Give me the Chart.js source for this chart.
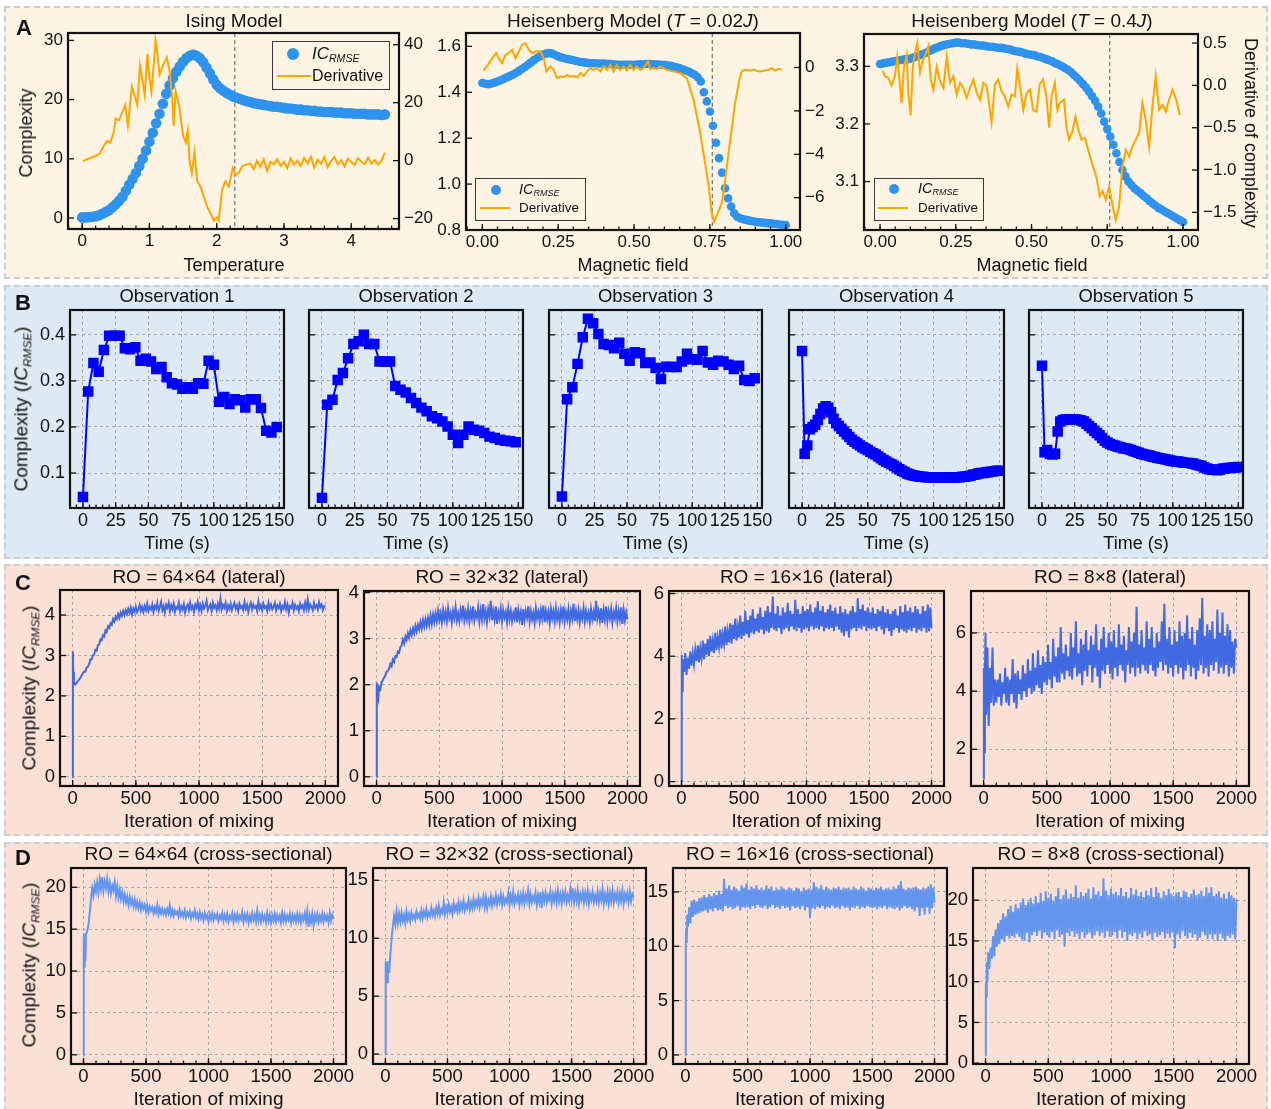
<!DOCTYPE html>
<html>
<head>
<meta charset="utf-8">
<script src="https://cdn.jsdelivr.net/npm/chart.js@4.4.0/dist/chart.umd.min.js"></script>
<style>
body { margin: 0; background: #fff; font-family: "Liberation Sans", Arial, sans-serif; }
#fig { position: relative; width: 1271px; height: 1109px; overflow: hidden; }
.panel { position: absolute; border: 2px dashed #c6ced7; box-sizing: border-box; }
canvas { position: absolute; }
.txt { position: absolute; white-space: nowrap; color: #111; line-height: 1; }
.txt sub { font-size: 0.62em; vertical-align: -0.3em; }
.lg { position: absolute; box-sizing: border-box; }
</style>
</head>
<body>
<div id="fig"></div>
<script>
// ---- row A data ----
var isingT = [0,0.05,0.1,0.15,0.2,0.25,0.3,0.35,0.4,0.45,0.5,0.55,0.6,0.65,0.7,0.75,0.8,0.85,0.9,0.95,1,1.05,1.1,1.15,1.2,1.25,1.3,1.35,1.4,1.45,1.5,1.55,1.6,1.65,1.7,1.75,1.8,1.85,1.9,1.95,2,2.05,2.1,2.15,2.2,2.25,2.3,2.35,2.4,2.45,2.5,2.55,2.6,2.65,2.7,2.75,2.8,2.85,2.9,2.95,3,3.05,3.1,3.15,3.2,3.25,3.3,3.35,3.4,3.45,3.5,3.55,3.6,3.65,3.7,3.75,3.8,3.85,3.9,3.95,4,4.05,4.1,4.15,4.2,4.25,4.3,4.35,4.4,4.45,4.5];
var isingIC = [0.1,0.1,0.15,0.2,0.3,0.45,0.7,1.0,1.3,1.8,2.3,2.9,3.6,4.6,5.6,6.6,7.6,8.8,10.0,11.4,12.9,14.4,16.0,17.6,19.3,21.0,22.4,23.6,24.7,25.6,26.4,27.0,27.4,27.6,27.4,27.0,26.3,25.4,24.4,23.4,22.5,21.9,21.5,21.1,20.8,20.5,20.3,20.1,19.9,19.7,19.6,19.4,19.3,19.2,19.1,19.0,18.9,18.8,18.8,18.7,18.6,18.5,18.5,18.4,18.3,18.3,18.2,18.2,18.1,18.1,18.0,18.0,17.9,17.9,17.9,17.8,17.8,17.8,17.7,17.7,17.7,17.6,17.6,17.6,17.6,17.5,17.5,17.5,17.5,17.4,17.5];
var isingDerivT = [0.01,0.12,0.22,0.27,0.32,0.37,0.42,0.47,0.5,0.55,0.59,0.64,0.68,0.74,0.79,0.82,0.86,0.89,0.93,0.97,1.0,1.03,1.07,1.09,1.12,1.15,1.21,1.26,1.3,1.34,1.36,1.39,1.44,1.46,1.5,1.54,1.57,1.6,1.63,1.67,1.71,1.76,1.81,1.86,1.91,1.96,2.0,2.03,2.08,2.13,2.18,2.24,2.28,2.33,2.38,2.45,
  2.5,2.55,2.6,2.65,2.7,2.75,2.8,2.85,2.9,2.95,3,3.05,3.1,3.15,3.2,3.25,3.3,3.35,3.4,3.45,3.5,3.55,3.6,3.65,3.7,3.75,3.8,3.85,3.9,3.95,4,4.05,4.1,4.15,4.2,4.25,4.3,4.35,4.4,4.45,4.5];
var isingDeriv = [-0.2,0.9,1.8,2.6,5.0,6.8,6.2,9.8,14.5,13.9,16.2,19.2,12.1,25.6,21.5,19.2,32.7,28.6,22.7,36.8,28.6,23.9,34.5,41.5,36.8,29.7,33.3,35.6,30.9,21.5,12.1,23.9,19.2,15.6,8.6,6.2,10.4,-0.7,-4.2,2.8,-7.1,-9.0,-12.5,-16.0,-18.4,-20.7,-19.6,-20.7,-10.1,-7.1,-9.0,-2.5,-4.9,-4.3,-1.9,-1.3,
  -1.0,-3.0,0.0,-2.2,0.5,-3.5,-0.5,-1.2,0.5,-1.8,-0.4,-2.6,0.8,-1.4,0.0,-1.9,1.0,-1.0,1.4,-2.4,0.3,-1.1,1.2,-2.2,-0.2,1.3,-1.3,0.2,-2.0,0.7,-0.5,-1.5,0.8,-0.4,-1.2,1.0,-1.0,0.2,-1.4,0.0,2.8];
var isingTc = 2.269;

var fieldH = [0,0.01,0.02,0.03,0.04,0.05,0.06,0.07,0.08,0.09,0.1,0.11,0.12,0.13,0.14,0.15,0.16,0.17,0.18,0.19,0.2,0.21,0.22,0.23,0.24,0.25,0.26,0.27,0.28,0.29,0.3,0.31,0.32,0.33,0.34,0.35,0.36,0.37,0.38,0.39,0.4,0.41,0.42,0.43,0.44,0.45,0.46,0.47,0.48,0.49,0.5,0.51,0.52,0.53,0.54,0.55,0.56,0.57,0.58,0.59,0.6,0.61,0.62,0.63,0.64,0.65,0.66,0.67,0.68,0.69,0.7,0.71,0.72,0.73,0.74,0.75,0.76,0.77,0.78,0.79,0.8,0.81,0.82,0.83,0.84,0.85,0.86,0.87,0.88,0.89,0.9,0.91,0.92,0.93,0.94,0.95,0.96,0.97,0.98,0.99,1];
var heis02IC = [1.44,1.437,1.435,1.438,1.442,1.447,1.452,1.458,1.464,1.47,1.476,1.484,1.492,1.501,1.51,1.52,1.53,1.54,1.549,1.557,1.564,1.568,1.571,1.568,1.562,1.556,1.552,1.548,1.545,1.542,1.539,1.536,1.533,1.531,1.529,1.527,1.526,1.526,1.525,1.525,1.525,1.524,1.523,1.522,1.521,1.52,1.52,1.52,1.52,1.52,1.52,1.521,1.522,1.522,1.523,1.523,1.522,1.522,1.521,1.52,1.519,1.517,1.515,1.512,1.509,1.505,1.5,1.495,1.49,1.483,1.476,1.465,1.447,1.40,1.36,1.316,1.254,1.18,1.113,1.05,0.982,0.938,0.902,0.873,0.858,0.851,0.847,0.844,0.841,0.838,0.836,0.834,0.833,0.831,0.83,0.829,0.827,0.826,0.824,0.823,0.822];
var heis02DerivH = [0.004,0.015,0.026,0.037,0.046,0.054,0.065,0.076,0.087,0.098,0.109,0.12,0.131,0.142,0.153,0.164,0.175,0.191,0.202,0.211,0.224,0.235,0.246,0.257,0.268,0.279,0.29,0.301,0.312,0.323,0.334,0.345,0.356,0.367,0.378,0.389,0.4,0.411,0.422,0.432,0.443,0.454,0.465,0.476,0.487,0.498,0.509,0.52,0.531,0.546,0.553,0.564,0.575,0.586,0.608,0.63,0.652,0.674,0.696,0.718,0.734,0.746,0.756,0.764,0.776,0.789,0.8,0.817,0.833,0.847,0.855,0.866,0.883,0.894,0.905,0.915,0.926,0.943,0.954,0.965,0.976,0.987];
var heis02Deriv = [-0.14,0.05,0.28,0.51,0.66,0.43,0.2,0.58,0.66,0.82,0.43,0.74,1.05,1.12,0.82,0.66,0.74,0.74,0.43,-0.18,0.05,-0.11,-0.49,-0.42,-0.45,-0.34,-0.42,-0.38,-0.45,-0.26,-0.38,-0.18,-0.03,-0.11,-0.03,-0.18,0.05,-0.11,0.12,-0.18,0.12,-0.11,0.05,-0.14,0.12,-0.11,0.05,-0.11,-0.03,0.28,-0.08,-0.03,-0.08,0.05,-0.11,-0.18,-0.26,-0.49,-1.48,-3.02,-4.4,-5.48,-6.71,-7.11,-6.71,-6.25,-5.2,-3.34,-1.65,-0.57,-0.18,-0.11,-0.14,-0.11,-0.15,-0.18,-0.15,-0.11,-0.03,-0.14,-0.06,-0.11];
var heis04IC = [3.304,3.305,3.306,3.307,3.308,3.309,3.31,3.311,3.312,3.312,3.313,3.315,3.317,3.319,3.321,3.323,3.326,3.328,3.331,3.333,3.335,3.337,3.338,3.339,3.34,3.341,3.341,3.34,3.34,3.339,3.338,3.338,3.337,3.336,3.336,3.335,3.334,3.334,3.333,3.332,3.332,3.331,3.33,3.329,3.327,3.326,3.325,3.324,3.322,3.321,3.32,3.319,3.317,3.316,3.314,3.312,3.31,3.308,3.305,3.303,3.3,3.297,3.294,3.29,3.285,3.28,3.275,3.269,3.263,3.256,3.248,3.24,3.23,3.218,3.204,3.191,3.178,3.164,3.149,3.134,3.12,3.109,3.1,3.094,3.088,3.084,3.08,3.075,3.071,3.066,3.062,3.058,3.054,3.051,3.048,3.045,3.042,3.039,3.036,3.033,3.03];
var heis04DerivH = [0.009,0.016,0.027,0.038,0.049,0.057,0.066,0.071,0.079,0.088,0.093,0.101,0.108,0.115,0.123,0.132,0.141,0.152,0.159,0.167,0.176,0.187,0.198,0.209,0.22,0.231,0.242,0.253,0.264,0.275,0.286,0.297,0.308,0.319,0.33,0.341,0.352,0.368,0.379,0.39,0.401,0.412,0.423,0.434,0.445,0.453,0.462,0.473,0.484,0.495,0.505,0.516,0.527,0.538,0.549,0.558,0.566,0.577,0.585,0.593,0.607,0.615,0.624,0.635,0.645,0.654,0.665,0.676,0.69,0.703,0.714,0.725,0.734,0.745,0.756,0.767,0.778,0.789,0.8,0.811,0.822,0.833,0.844,0.855,0.866,0.877,0.888,0.899,0.91,0.921,0.932,0.943,0.954,0.965,0.978,0.989];
var heis04Deriv = [0.17,0.11,0.09,0.0,0.11,0.34,-0.01,-0.21,0.22,0.36,-0.07,-0.35,0.22,0.38,0.5,0.15,0.3,0.38,0.46,0.07,-0.05,0.22,0.05,-0.03,0.34,0.03,0.11,-0.11,0.03,-0.03,-0.15,-0.03,0.07,-0.09,-0.17,0.03,-0.01,-0.43,0.01,0.07,-0.07,-0.13,-0.25,-0.11,-0.13,0.2,-0.01,-0.29,-0.09,-0.05,-0.29,-0.31,0.01,0.07,-0.13,-0.5,-0.13,0.03,-0.29,-0.21,-0.17,-0.49,-0.64,-0.54,-0.37,-0.52,-0.64,-0.62,-0.8,-0.96,-1.08,-1.31,-1.25,-1.35,-1.2,-1.41,-1.59,-1.43,-0.96,-0.76,-0.84,-0.72,-0.64,-0.56,-0.21,-0.41,-0.72,-0.25,0.11,-0.29,-0.23,-0.31,-0.17,-0.05,-0.17,-0.35];
var fieldHc = 0.758;

// ---- row B data ----
var obsTime = [0,4,8,12,16,20,24,28,32,36,40,44,48,52,56,60,64,68,72,76,80,84,88,92,96,100,104,108,112,116,120,124,128,132,136,140,144,148];
var obsTimeFine = [0,2,4,6,8,10,12,14,16,18,20,22,24,26,28,30,32,34,36,38,40,42,44,46,48,50,52,54,56,58,60,62,64,66,68,70,72,74,76,78,80,82,84,86,88,90,92,94,96,98,100,102,104,106,108,110,112,114,116,118,120,122,124,126,128,130,132,134,136,138,140,142,144,146,148,150];
var obs1 = [0.048,0.277,0.339,0.32,0.367,0.398,0.398,0.398,0.371,0.369,0.373,0.344,0.348,0.342,0.326,0.33,0.308,0.295,0.292,0.283,0.286,0.283,0.295,0.294,0.344,0.335,0.255,0.265,0.25,0.26,0.258,0.242,0.26,0.26,0.241,0.192,0.188,0.2];
var obs2 = [0.046,0.248,0.259,0.302,0.317,0.349,0.38,0.386,0.4,0.38,0.38,0.342,0.342,0.342,0.289,0.281,0.275,0.263,0.252,0.242,0.234,0.223,0.219,0.212,0.201,0.183,0.165,0.183,0.201,0.194,0.192,0.187,0.179,0.176,0.172,0.17,0.169,0.167];
var obs3 = [0.049,0.26,0.286,0.337,0.395,0.435,0.425,0.402,0.38,0.378,0.371,0.383,0.359,0.344,0.362,0.36,0.339,0.34,0.328,0.304,0.331,0.33,0.33,0.342,0.359,0.347,0.346,0.365,0.34,0.335,0.344,0.342,0.335,0.326,0.333,0.302,0.3,0.306];
var obs4 = [0.365,0.142,0.16,0.195,0.2,0.205,0.215,0.228,0.24,0.245,0.242,0.232,0.218,0.208,0.202,0.196,0.19,0.184,0.178,0.172,0.168,0.164,0.16,0.156,0.153,0.15,0.146,0.143,0.14,0.136,0.132,0.128,0.125,0.122,0.119,0.116,0.112,0.108,0.105,0.102,0.099,0.097,0.095,0.094,0.093,0.092,0.092,0.091,0.091,0.09,0.09,0.09,0.09,0.09,0.09,0.09,0.09,0.09,0.09,0.091,0.091,0.092,0.092,0.093,0.094,0.096,0.097,0.099,0.1,0.1,0.101,0.102,0.103,0.104,0.105,0.105];
var obs5 = [0.333,0.145,0.15,0.142,0.14,0.142,0.19,0.212,0.215,0.216,0.216,0.217,0.216,0.216,0.215,0.214,0.212,0.207,0.202,0.197,0.192,0.187,0.182,0.176,0.17,0.166,0.163,0.161,0.159,0.157,0.156,0.154,0.153,0.152,0.15,0.148,0.146,0.144,0.142,0.14,0.139,0.138,0.136,0.135,0.133,0.132,0.131,0.13,0.129,0.127,0.126,0.125,0.125,0.124,0.123,0.122,0.122,0.121,0.12,0.118,0.117,0.115,0.112,0.11,0.108,0.107,0.107,0.106,0.107,0.109,0.11,0.111,0.111,0.112,0.112,0.113];

// ---- rows C and D data ----
var mixIter = [0,2,5,10,15,20,30,40,50,60,70,80,90,
  100,110,120,130,140,150,160,170,180,190, 200,210,220,230,240,250,260,270,280,290,
  300,310,320,330,340,350,360,370,380,390, 400,410,420,430,440,450,460,470,480,490,
  500,510,520,530,540,550,560,570,580,590, 600,610,620,630,640,650,660,670,680,690,
  700,710,720,730,740,750,760,770,780,790, 800,810,820,830,840,850,860,870,880,890,
  900,910,920,930,940,950,960,970,980,990, 1000,1010,1020,1030,1040,1050,1060,1070,1080,1090,
  1100,1110,1120,1130,1140,1150,1160,1170,1180,1190, 1200,1210,1220,1230,1240,1250,1260,1270,1280,1290,
  1300,1310,1320,1330,1340,1350,1360,1370,1380,1390, 1400,1410,1420,1430,1440,1450,1460,1470,1480,1490,
  1500,1510,1520,1530,1540,1550,1560,1570,1580,1590, 1600,1610,1620,1630,1640,1650,1660,1670,1680,1690,
  1700,1710,1720,1730,1740,1750,1760,1770,1780,1790, 1800,1810,1820,1830,1840,1850,1860,1870,1880,1890,
  1900,1910,1920,1930,1940,1950,1960,1970,1980,1990, 2000];
var lat64 = [0,3.1,2.6,2.35,2.3,2.28,2.32,2.36,2.4,2.44,2.5,2.55,2.6,
  2.6,2.7,2.72,2.78,2.9,2.9,3.0,3.02,3.14,3.12, 3.26,3.27,3.4,3.38,3.5,3.47,3.62,3.58,3.72,3.68,
  3.8,3.76,3.9,3.84,3.96,3.9,4.02,3.93,4.06,3.98, 4.1,4.0,4.12,4.03,4.15,4.05,4.18,4.02,4.16,4.08,
  4.2,4.07,4.15,4.25,4.1,4.2,4.08,4.22,4.12,4.28, 4.1,4.2,4.14,4.26,4.08,4.22,4.16,4.3,4.1,4.2,
  4.32,4.12,4.22,4.06,4.25,4.18,4.3,4.1,4.24,4.14, 4.28,4.08,4.2,4.16,4.3,4.1,4.22,4.14,4.27,4.06,
  4.2,4.26,4.12,4.3,4.15,4.22,4.08,4.25,4.18,4.32, 4.12,4.24,4.1,4.28,4.16,4.22,4.35,4.12,4.2,4.26,
  4.1,4.3,4.18,4.24,4.12,4.28,4.16,4.4,4.14,4.25, 4.18,4.3,4.1,4.24,4.15,4.28,4.12,4.22,4.3,4.16,
  4.24,4.1,4.28,4.18,4.22,4.12,4.32,4.16,4.25,4.08, 4.22,4.3,4.14,4.26,4.18,4.22,4.1,4.34,4.16,4.24,
  4.12,4.28,4.18,4.22,4.1,4.3,4.16,4.26,4.14,4.2, 4.3,4.12,4.24,4.18,4.28,4.1,4.22,4.16,4.32,4.14,
  4.26,4.06,4.22,4.18,4.3,4.12,4.25,4.16,4.22,4.1, 4.28,4.18,4.24,4.12,4.3,4.16,4.38,4.14,4.26,4.2,
  4.12,4.3,4.18,4.24,4.14,4.32,4.2,4.26,4.12,4.22, 4.2];
var lat32 = [0,2.05,1.65,1.85,1.75,1.95,1.9,2.05,2.1,2.15,2.2,2.28,2.3,
  2.35,2.45,2.4,2.55,2.5,2.62,2.6,2.72,2.7,2.82, 2.85,2.98,2.9,3.05,2.98,3.12,3.02,3.18,3.08,3.22,
  3.12,3.28,3.16,3.3,3.2,3.36,3.22,3.4,3.26,3.42, 3.28,3.45,3.3,3.5,3.32,3.52,3.36,3.55,3.38,3.6,
  3.4,3.55,3.36,3.62,3.42,3.58,3.38,3.66,3.44,3.56, 3.35,3.6,3.45,3.68,3.4,3.55,3.38,3.62,3.46,3.72,
  3.4,3.58,3.42,3.65,3.38,3.6,3.44,3.7,3.4,3.56, 3.46,3.68,3.38,3.62,3.42,3.75,3.44,3.6,3.36,3.64,
  3.48,3.82,3.4,3.6,3.42,3.7,3.32,3.58,3.44,3.66, 3.38,3.62,3.46,3.58,3.36,3.65,3.42,3.6,3.38,3.55,
  3.44,3.68,3.36,3.62,3.42,3.58,3.3,3.64,3.4,3.6, 3.46,3.7,3.38,3.6,3.42,3.56,3.35,3.66,3.44,3.58,
  3.38,3.62,3.44,3.72,3.36,3.6,3.42,3.58,3.34,3.64, 3.44,3.6,3.38,3.66,3.42,3.58,3.36,3.62,3.44,3.7,
  3.38,3.58,3.42,3.64,3.36,3.6,3.44,3.76,3.38,3.6, 3.42,3.62,3.36,3.58,3.44,3.66,3.38,3.6,3.42,3.56,
  3.36,3.64,3.42,3.58,3.38,3.82,3.44,3.6,3.4,3.66, 3.34,3.62,3.42,3.7,3.38,3.6,3.44,3.64,3.36,3.58,
  3.44,3.66,3.38,3.6,3.42,3.68,3.32,3.62,3.4,3.58, 3.42];
var lat16 = [0,4.05,2.9,3.3,3.9,3.5,4.1,3.4,3.95,3.6,4.15,3.7,4.1,
  3.75,4.2,3.85,4.35,3.8,4.25,3.95,4.5,3.9,4.4, 4.05,4.55,4.0,4.65,4.15,4.5,4.1,4.75,4.2,4.6,
  4.3,4.85,4.25,4.7,4.4,4.95,4.35,4.8,4.45,5.05, 4.4,5.0,4.55,5.2,4.5,4.95,4.6,5.3,4.55,5.1,
  4.65,5.45,4.7,5.15,4.6,5.3,4.75,5.5,4.7,5.2, 4.8,5.35,4.75,5.55,4.85,5.25,4.7,5.45,4.8,5.6,
  4.75,5.4,4.9,5.9,4.85,5.35,4.8,5.6,4.9,5.3, 4.7,5.55,4.85,5.4,4.9,5.7,4.8,5.45,4.95,5.35,
  4.85,5.8,4.8,5.5,4.9,5.35,4.75,5.6,4.85,5.45, 4.9,5.5,4.8,5.65,4.95,5.4,4.85,5.55,4.9,5.75,
  4.85,5.45,4.95,5.6,4.8,5.4,4.9,5.5,4.85,5.65, 4.9,5.45,4.8,5.55,4.95,5.35,4.85,5.6,4.75,5.4,
  4.65,5.5,4.8,5.35,4.6,5.45,4.85,5.6,4.9,5.4, 4.8,5.85,4.9,5.5,4.85,5.65,4.95,5.45,4.8,5.55,
  4.9,5.4,4.85,5.55,4.9,5.35,4.8,5.5,4.95,5.45, 4.85,5.6,4.7,5.4,4.9,5.5,4.8,5.35,4.65,5.45,
  4.85,5.5,4.9,5.3,4.75,5.6,4.85,5.4,4.8,5.65, 4.75,5.45,4.85,5.55,4.8,5.4,4.9,5.6,4.75,5.5,
  4.85,5.35,4.8,5.6,4.9,5.45,4.75,5.65,4.8,5.55, 4.9];
var lat8 = [1.0,4.8,1.9,4.6,6.0,3.2,5.5,2.8,4.8,3.6,5.5,3.5,4.4,
  3.6,4.4,3.8,4.6,3.5,4.3,3.9,4.8,3.6,4.5, 3.5,4.4,3.9,5.1,3.6,4.6,3.4,4.7,3.9,4.4,
  3.7,4.9,4.0,4.6,3.8,5.1,4.1,4.7,3.9,5.3, 4.0,4.8,4.2,5.4,4.1,4.9,3.9,5.2,4.3,5.0,
  4.2,5.6,4.4,5.0,4.1,5.8,4.5,5.2,4.3,5.5, 4.3,6.2,4.6,5.3,4.4,5.6,4.7,5.2,4.5,6.0,
  4.4,5.5,4.8,6.4,4.5,5.3,4.6,5.8,4.2,5.6, 4.7,6.1,4.5,5.4,4.9,5.9,4.3,5.6,4.8,6.3,
  4.5,5.4,4.1,5.8,4.7,6.2,4.6,5.5,4.9,6.0, 4.6,5.7,4.4,6.1,4.8,5.5,4.5,6.3,4.9,5.6,
  4.7,5.9,4.3,5.4,4.9,6.2,4.6,5.7,4.8,6.0, 4.5,6.9,4.8,5.6,4.6,6.1,4.9,5.5,4.7,6.4,
  4.6,5.8,4.9,6.2,4.7,5.5,4.5,6.0,4.8,5.7, 5.0,6.4,4.7,7.0,4.9,5.8,4.6,6.2,4.8,5.6,
  4.5,6.1,4.9,5.7,4.6,6.4,4.8,5.9,4.4,6.0, 4.7,6.6,4.9,5.8,4.5,6.2,4.8,5.6,4.4,6.1,
  4.7,6.5,4.9,7.2,4.6,5.9,4.8,6.3,4.5,6.1, 4.9,6.4,4.7,5.8,5.0,6.8,4.6,6.0,4.8,6.7,
  4.6,5.9,4.9,6.3,4.5,6.1,4.8,5.7,4.6,5.8, 5.5];
var cross64 = [0,14.5,10.5,12.8,11.2,14.4,14.8,15.5,17.0,18.6,19.9,19.0,20.3,
  19.5,20.6,19.4,20.9,19.8,21.2,19.6,20.7,19.9,21.0, 19.5,20.5,19.3,20.2,19.6,20.6,19.0,20.1,18.8,19.7,
  18.6,19.4,18.3,19.1,18.2,18.9,17.9,18.8,18.0,18.6, 17.7,18.5,17.6,18.3,17.5,18.2,17.3,18.0,17.4,17.9,
  17.1,17.8,17.0,17.7,17.2,17.6,16.9,17.5,17.0,17.9, 16.8,17.5,16.9,17.4,16.8,17.3,16.7,17.4,16.9,17.8,
  16.7,17.3,16.6,17.2,16.8,17.1,16.5,17.3,16.6,17.0, 16.5,17.2,16.4,17.0,16.6,17.1,16.3,16.9,16.5,17.2,
  16.4,16.9,16.2,17.0,16.3,16.8,16.1,16.9,16.3,16.7, 15.9,16.8,16.2,16.9,16.1,16.7,16.3,16.8,16.0,16.6,
  16.2,16.9,16.0,16.7,16.1,16.8,15.9,16.6,16.2,16.9, 15.9,16.7,16.1,16.8,16.0,16.6,16.2,17.0,15.9,16.7,
  16.1,16.8,15.8,16.6,16.0,16.9,16.1,16.7,15.9,17.2, 16.0,16.7,15.9,16.8,16.1,16.6,15.8,16.9,16.0,16.7,
  15.8,16.6,16.0,16.8,15.9,16.7,16.1,16.6,15.8,16.9, 16.0,16.7,15.9,16.6,16.1,16.8,15.8,16.7,16.0,16.6,
  15.9,16.8,16.0,16.7,15.8,16.6,16.1,16.9,15.9,17.1, 15.3,16.6,15.8,16.8,15.5,16.7,16.0,16.8,15.9,16.6,
  16.0,16.8,15.9,16.7,16.1,16.6,15.8,16.9,16.0,16.7, 16.2];
var cross32 = [0,8.0,6.3,7.8,6.2,8.0,7.0,8.6,10.0,11.0,11.9,11.2,12.3,
  11.3,12.1,11.4,12.2,11.5,12.0,11.3,12.3,11.6,12.1, 11.5,12.2,11.7,12.0,11.6,12.3,11.8,12.1,11.7,12.4,
  11.7,12.3,11.9,12.5,11.8,12.2,11.9,12.6,12.0,12.4, 11.9,12.6,12.1,12.8,12.0,12.5,12.2,13.1,12.1,12.7,
  12.2,12.9,12.3,12.7,12.1,13.0,12.4,12.8,12.3,13.1, 12.4,13.0,12.5,13.2,12.4,12.9,12.6,13.3,12.5,13.1,
  12.6,13.4,12.7,13.2,12.8,13.5,12.7,13.3,12.9,13.6, 12.7,13.5,12.6,13.3,12.9,13.6,12.8,13.4,13.0,13.7,
  12.9,13.5,13.1,13.8,12.9,13.6,13.0,13.4,13.1,13.9, 12.9,13.7,13.1,14.0,13.0,13.6,13.2,13.8,12.9,13.7,
  13.1,13.9,13.0,13.7,13.2,14.1,13.0,13.8,13.1,13.6, 13.2,13.9,12.9,13.7,13.1,14.0,12.6,13.8,13.2,13.9,
  13.1,13.7,13.3,14.0,13.0,13.8,13.2,13.9,13.1,14.1, 13.2,13.8,13.0,13.9,13.3,14.0,13.1,13.7,13.2,14.2,
  13.3,14.3,13.1,13.9,13.2,14.1,13.0,13.8,13.3,14.0, 13.1,13.9,13.2,14.1,13.0,13.8,13.3,14.0,13.1,13.7,
  13.2,14.0,13.1,13.9,13.3,14.2,13.0,13.8,13.2,14.0, 13.0,13.9,13.2,14.1,13.1,13.8,13.3,14.0,13.1,13.9,
  13.2,14.1,13.0,13.8,13.3,13.9,13.1,14.0,13.2,13.8, 13.5];
var cross16 = [0,10.0,11.6,10.3,12.9,11.8,13.6,12.1,14.2,12.7,14.3,12.9,14.1,
  13.0,14.4,13.1,14.5,13.2,14.7,13.3,14.5,13.1,14.8, 13.4,14.6,13.2,14.9,13.5,14.7,13.3,15.1,13.4,14.8,
  13.2,16.2,13.7,15.3,13.5,15.6,13.6,15.2,13.4,15.5, 13.5,15.3,13.7,15.1,13.3,15.6,13.6,15.4,13.5,15.8,
  13.6,15.2,13.4,15.5,13.7,15.3,13.5,15.6,13.8,15.2, 13.6,15.4,13.5,15.2,13.7,15.6,13.4,15.3,13.6,15.5,
  13.8,15.1,13.5,15.4,13.6,15.2,13.4,15.5,13.7,15.3, 13.5,15.2,13.6,15.4,13.3,15.3,13.7,15.1,13.5,15.4,
  13.6,15.3,13.4,15.0,13.7,15.4,13.3,15.2,13.6,15.3, 12.6,15.2,13.5,15.9,13.4,15.5,13.6,15.3,13.5,15.6,
  13.7,15.2,13.4,15.5,13.6,15.3,13.5,15.2,13.7,15.4, 13.5,15.3,13.6,15.5,13.4,15.2,13.7,15.4,13.5,15.3,
  13.6,15.4,13.3,15.2,13.6,15.5,13.5,15.3,13.7,15.2, 13.4,15.5,13.6,15.3,13.5,15.1,13.7,15.4,13.6,15.3,
  13.5,15.2,13.6,15.4,13.4,15.3,13.6,15.5,13.5,15.2, 13.7,15.3,13.4,15.4,13.6,15.2,13.5,15.5,13.4,15.3,
  13.6,15.6,13.3,16.0,13.5,15.3,13.7,15.2,13.5,15.4, 13.6,15.3,13.4,15.4,13.2,15.5,13.6,15.3,12.8,15.2,
  13.5,15.4,12.9,15.3,13.6,15.5,13.0,15.7,13.5,15.4, 14.0];
var cross8 = [1.0,9.8,8.2,12.4,10.0,13.6,11.6,14.2,12.8,15.6,13.1,16.4,14.3,
  17.2,14.6,17.6,15.2,18.4,14.9,18.0,15.6,18.9,15.3, 19.3,15.6,18.6,15.4,19.5,15.9,19.0,15.5,19.7,15.2,
  20.2,15.0,19.4,16.0,19.8,14.8,20.3,15.7,19.6,16.1, 20.5,15.6,19.7,16.2,20.9,15.3,19.9,16.0,21.1,15.7,
  20.3,15.4,20.8,16.1,19.9,15.2,20.5,16.3,21.5,15.5, 20.1,15.8,20.6,14.3,21.3,16.0,20.2,15.6,20.8,16.2,
  20.4,15.5,21.8,15.9,20.3,15.2,21.0,16.1,20.5,15.4, 20.9,15.8,21.4,16.0,20.2,15.3,21.6,15.7,20.7,16.2,
  21.1,15.6,20.5,16.0,22.7,15.4,21.2,16.2,20.6,15.5, 21.4,15.7,20.8,16.1,21.0,15.3,20.6,16.3,21.5,15.4,
  20.5,16.1,21.0,15.0,20.3,15.8,21.5,15.6,20.7,16.0, 21.3,15.2,20.5,15.9,21.0,15.4,20.4,16.2,21.2,15.6,
  20.6,15.8,21.5,15.1,20.4,16.0,21.6,15.5,20.9,15.7, 20.3,16.1,21.1,15.3,20.6,15.9,21.4,15.4,20.8,16.0,
  20.5,14.1,20.9,15.8,21.0,15.3,20.4,16.2,21.2,15.6, 21.0,15.3,20.4,16.0,20.8,15.4,21.3,15.8,20.6,15.1,
  20.8,15.4,21.2,16.1,20.5,15.7,21.6,15.2,20.9,15.8, 21.6,15.2,20.5,15.8,20.8,15.0,21.1,15.9,20.3,15.3,
  20.8,15.0,20.2,15.6,21.0,15.4,20.6,15.8,20.3,15.2, 20.1];

// ---- tick labels ----
var ticksTemp = [0,1,2,3,4];
var ticksField = [0,0.25,0.5,0.75,1];
var ticksTime = [0,25,50,75,100,125,150];
var ticksIter = [0,500,1000,1500,2000];
var ticksObs = [0.1,0.2,0.3,0.4];

var BLUE = '#2e93ef', ORANGE = '#ffa500';
var FONT = '"Liberation Sans", Arial, sans-serif';
Chart.defaults.font.family = FONT;
Chart.defaults.color = '#111';

var fig = document.getElementById('fig');
var PL = 70, PR = 70, PT = 24, PB = 40;

// frame, inward ticks and the dashed critical line
var decor = {
  id: 'decor',
  beforeDatasetsDraw: function (chart, args, o) {
    if (o.vline == null) return;
    var ctx = chart.ctx, a = chart.chartArea;
    var px = chart.scales.x.getPixelForValue(o.vline);
    ctx.save();
    ctx.strokeStyle = '#7d7d7d'; ctx.lineWidth = 1.3; ctx.setLineDash([4, 3]);
    ctx.beginPath(); ctx.moveTo(px, a.top); ctx.lineTo(px, a.bottom); ctx.stroke();
    ctx.restore();
  },
  afterDatasetsDraw: function (chart, args, o) {
    var ctx = chart.ctx, a = chart.chartArea;
    ctx.save();
    ctx.strokeStyle = '#111'; ctx.lineWidth = 1.3;
    function mark(s, v, len) {
      var p = s.getPixelForValue(v);
      ctx.beginPath();
      if (s.position === 'bottom') {
        if (p < a.left - 0.5 || p > a.right + 0.5) return;
        ctx.moveTo(p, a.bottom); ctx.lineTo(p, a.bottom - len);
      } else if (s.position === 'left') {
        ctx.moveTo(a.left, p); ctx.lineTo(a.left + len, p);
      } else {
        ctx.moveTo(a.right, p); ctx.lineTo(a.right - len, p);
      }
      ctx.stroke();
    }
    Object.values(chart.scales).forEach(function (s) {
      s.ticks.forEach(function (t) { mark(s, t.value, 6); });
      var m = o.minor && o.minor[s.id];
      if (m) {
        for (var k = Math.ceil(s.min / m); k * m <= s.max; k++) mark(s, k * m, 3.5);
      }
    });
    ctx.lineWidth = 2.2;
    ctx.strokeRect(a.left, a.top, a.width, a.height);
    ctx.restore();
  }
};

function num(d) {
  return function (v) { return (v < -1e-9 ? '\u2212' : '') + Math.abs(v).toFixed(d); };
}

function axis(pos, min, max, ticks, fmt, o) {
  o = o || {};
  return {
    type: 'linear', position: pos, min: min, max: max,
    afterBuildTicks: function (s) { s.ticks = ticks.map(function (v) { return { value: v }; }); },
    afterFit: function (s) {
      if (pos === 'bottom') s.height = PB; else s.width = (pos === 'left') ? PL : PR;
    },
    grid: { display: !!o.grid, drawTicks: false, color: '#a9a9a9', lineWidth: 1 },
    border: { display: false, dash: [3, 3] },
    ticks: {
      display: o.labels !== false, padding: pos === 'bottom' ? 2 : 5,
      autoSkip: false, maxRotation: 0, color: '#111',
      font: { size: o.size || 17 }, callback: fmt
    }
  };
}

function pts(xs, ys) {
  return xs.map(function (x, i) { return { x: x, y: ys[i] }; });
}

function plot(box, datasets, scales, decorOpts) {
  var l = box[0], t = box[1], r = box[2], b = box[3];
  var cv = document.createElement('canvas');
  cv.width = r - l + PL + PR; cv.height = b - t + PT + PB;
  cv.style.left = (l - PL) + 'px'; cv.style.top = (t - PT) + 'px';
  fig.appendChild(cv);
  return new Chart(cv, {
    type: 'scatter',
    data: { datasets: datasets },
    options: {
      responsive: false, animation: false, events: [],
      layout: { padding: { top: PT, right: scales.y2 ? 0 : PR, left: 0, bottom: 0 } },
      plugins: { legend: { display: false }, tooltip: { enabled: false }, decor: decorOpts || {} },
      scales: scales
    },
    plugins: [decor]
  });
}

function panel(t, b, bg) {
  var d = document.createElement('div');
  d.className = 'panel';
  d.style.left = '4px'; d.style.width = '1264px';
  d.style.top = t + 'px'; d.style.height = (b - t) + 'px';
  d.style.background = bg;
  fig.appendChild(d);
}

function text(html, x, y, size, extra) {
  var d = document.createElement('div');
  d.className = 'txt';
  d.innerHTML = html;
  d.style.left = x + 'px'; d.style.top = y + 'px';
  d.style.fontSize = size + 'px';
  d.style.transform = 'translate(-50%,-50%)' + (extra && extra.rot ? ' rotate(' + extra.rot + 'deg)' : '');
  if (extra && extra.left) d.style.transform = 'translate(0,-50%)';
  if (extra && extra.bold) d.style.fontWeight = 'bold';
  fig.appendChild(d);
}

function box(cls, x, y, w, h, css) {
  var d = document.createElement('div');
  d.className = cls;
  d.style.left = x + 'px'; d.style.top = y + 'px'; d.style.width = w + 'px'; d.style.height = h + 'px';
  for (var k in css) d.style[k] = css[k];
  fig.appendChild(d);
}

function legend(x, y, w, h, dotX, dotY, r, lineX1, lineX2, lineY, textX, size) {
  box('lg', x, y, w, h, { border: '1.4px solid #3a3a3a' });
  box('lg', dotX - r, dotY - r, 2 * r, 2 * r, { background: BLUE, borderRadius: '50%' });
  box('lg', lineX1, lineY - 1.25, lineX2 - lineX1, 2.5, { background: ORANGE });
  text('<i>IC<sub>RMSE</sub></i>', textX, dotY, size + 1, { left: true });
  text('Derivative', textX, lineY, size, { left: true });
}

var IC = '<i>IC<sub>RMSE</sub></i>';

// backgrounds
panel(6, 279, '#fdf4e4');
panel(285, 559, '#dde9f5');
panel(564, 836, '#fbe1d5');
panel(842, 1112, '#fbe1d5');

// ---- row A ----
plot([68, 33, 399, 229], [
  { data: pts(isingDerivT, isingDeriv), yAxisID: 'y2', showLine: true, borderColor: ORANGE, borderWidth: 2, pointRadius: 0 },
  { data: pts(isingT, isingIC), yAxisID: 'y', pointRadius: 5.3, backgroundColor: BLUE, borderWidth: 0 }
], {
  x: axis('bottom', -0.21, 4.71, ticksTemp, num(0)),
  y: axis('left', -1.86, 31.25, [0, 10, 20, 30], num(0)),
  y2: axis('right', -23.6, 44.05, [-20, 0, 20, 40], num(0))
}, { vline: isingTc, minor: { x: 0.2 } });

plot([466, 33, 800, 230], [
  { data: pts(heis02DerivH, heis02Deriv), yAxisID: 'y2', showLine: true, borderColor: ORANGE, borderWidth: 2, pointRadius: 0 },
  { data: pts(fieldH, heis02IC), yAxisID: 'y', pointRadius: 4.3, backgroundColor: BLUE, borderWidth: 0 }
], {
  x: axis('bottom', -0.054, 1.047, ticksField, num(2)),
  y: axis('left', 0.8, 1.658, [0.8, 1.0, 1.2, 1.4, 1.6], num(1)),
  y2: axis('right', -7.49, 1.59, [-6, -4, -2, 0], num(0))
}, { vline: fieldHc, minor: { x: 0.05 } });

plot([864, 34, 1198, 230], [
  { data: pts(heis04DerivH, heis04Deriv), yAxisID: 'y2', showLine: true, borderColor: ORANGE, borderWidth: 2, pointRadius: 0 },
  { data: pts(fieldH, heis04IC), yAxisID: 'y', pointRadius: 4.3, backgroundColor: BLUE, borderWidth: 0 }
], {
  x: axis('bottom', -0.053, 1.0495, ticksField, num(2)),
  y: axis('left', 3.016, 3.356, [3.1, 3.2, 3.3], num(1)),
  y2: axis('right', -1.708, 0.607, [-1.5, -1.0, -0.5, 0, 0.5], num(1))
}, { vline: fieldHc, minor: { x: 0.05 } });

text('A', 24, 28, 22, { bold: true });
text('Ising Model', 234, 20, 19);
text('Heisenberg Model (<i>T</i> = 0.02<i>J</i>)', 633, 20, 19);
text('Heisenberg Model (<i>T</i> = 0.4<i>J</i>)', 1032, 20, 19);
text('Temperature', 234, 265, 18);
text('Magnetic field', 633, 265, 18);
text('Magnetic field', 1032, 265, 18);
text('Complexity', 26, 133, 18, { rot: -90 });
text('Derivative of complexity', 1251, 133, 18, { rot: 90 });
legend(272, 41, 118, 49, 293, 54, 6, 277, 311, 76, 312, 16);
legend(475, 178, 111, 43, 496, 190, 5, 480, 510, 208, 519, 13.5);
legend(874, 178, 110, 43, 894, 189, 5, 878, 908, 208, 918, 13.5);

// ---- row B ----
var obsBoxes = [[70, 310, 284, 508], [309, 310, 523, 508], [549, 310, 762, 508], [789, 310, 1004, 508], [1029, 310, 1243, 508]];
var obsSeries = [[obsTime, obs1], [obsTime, obs2], [obsTime, obs3], [obsTimeFine, obs4], [obsTimeFine, obs5]];
obsBoxes.forEach(function (bx, i) {
  plot(bx, [{
    data: pts(obsSeries[i][0], obsSeries[i][1]), showLine: true, borderColor: '#0000ff', borderWidth: 2,
    pointStyle: 'rect', pointRadius: 6, backgroundColor: '#0000ff', borderJoinStyle: 'round'
  }], {
    x: axis('bottom', -9.9, 153.6, ticksTime, num(0), { grid: true, size: 18 }),
    y: axis('left', 0.024, 0.454, ticksObs, num(1), { grid: true, size: 18, labels: i === 0 })
  }, { minor: { x: 5 } });
  var cx = (bx[0] + bx[2]) / 2;
  text('Observation ' + (i + 1), cx, 296, 18.5);
  text('Time (s)', cx, 543, 18);
});
text('B', 23, 303, 22, { bold: true });
text('Complexity (' + IC + ')', 22, 409, 19, { rot: -90 });

// ---- rows C and D ----
function mixRow(boxes, series, ranges, yticks, titles, color, titleY, xTitleY) {
  boxes.forEach(function (bx, i) {
    plot(bx, [{ data: pts(mixIter, series[i]), showLine: true, borderColor: color, borderWidth: 2, pointRadius: 0 }], {
      x: axis('bottom', -100, 2100, ticksIter, num(0), { grid: true, size: 18.5 }),
      y: axis('left', ranges[i][0], ranges[i][1], yticks[i], num(0), { grid: true, size: 18.5 })
    }, { minor: { x: 100 } });
    var cx = (bx[0] + bx[2]) / 2;
    text(titles[i], cx, titleY, 19);
    text('Iteration of mixing', cx, xTitleY, 19);
  });
}

mixRow([[60, 590, 338, 786], [364, 591, 640, 786], [669, 591, 944, 786], [971, 591, 1249, 786]],
  [lat64, lat32, lat16, lat8],
  [[-0.23, 4.62], [-0.2, 4.035], [-0.14, 6.08], [0.74, 7.44]],
  [[0, 1, 2, 3, 4], [0, 1, 2, 3, 4], [0, 2, 4, 6], [2, 4, 6]],
  ['RO = 64\u00d764 (lateral)', 'RO = 32\u00d732 (lateral)', 'RO = 16\u00d716 (lateral)', 'RO = 8\u00d78 (lateral)'],
  '#4169e1', 576, 820);
text('C', 23, 583, 22, { bold: true });
text('Complexity (' + IC + ')', 30, 688, 19, { rot: -90 });

mixRow([[71, 868, 346, 1064], [373, 868, 646, 1064], [673, 868, 947, 1064], [973, 868, 1249, 1064]],
  [cross64, cross32, cross16, cross8],
  [[-1.1, 22.3], [-0.86, 16.06], [-0.83, 17.2], [-0.1, 23.95]],
  [[0, 5, 10, 15, 20], [0, 5, 10, 15], [0, 5, 10, 15], [0, 5, 10, 15, 20]],
  ['RO = 64\u00d764 (cross-sectional)', 'RO = 32\u00d732 (cross-sectional)', 'RO = 16\u00d716 (cross-sectional)', 'RO = 8\u00d78 (cross-sectional)'],
  '#6495ed', 853, 1098);
text('D', 23, 858, 22, { bold: true });
text('Complexity (' + IC + ')', 30, 965, 19, { rot: -90 });
</script>
</body>
</html>
